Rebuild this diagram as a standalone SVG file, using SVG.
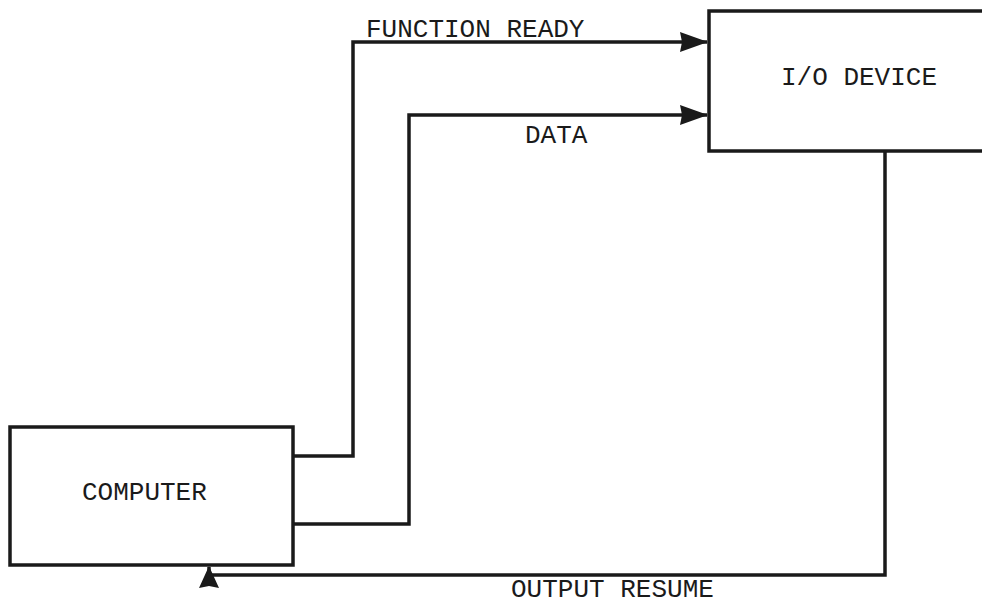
<svg xmlns="http://www.w3.org/2000/svg" width="982" height="605" viewBox="0 0 982 605">
<style>
.box{fill:#fff;stroke:#1a1a1a;stroke-width:3.5}
.wire{fill:none;stroke:#1a1a1a;stroke-width:3.5;stroke-linejoin:miter}
.lbl{font-family:"Liberation Mono","DejaVu Sans Mono",monospace;font-size:26px;fill:#1a1a1a}
</style>
<defs>
<marker id="ah" markerWidth="28" markerHeight="24" refX="27" refY="12" orient="auto" markerUnits="userSpaceOnUse">
<path d="M0,2 L28,12 L0,22 L2,12 Z" fill="#1a1a1a"/>
</marker>
<marker id="ahs" markerWidth="22" markerHeight="22" refX="21" refY="11" orient="auto" markerUnits="userSpaceOnUse">
<path d="M0,1 L22,11 L0,21 L2,11 Z" fill="#1a1a1a"/>
</marker>
</defs>
<rect width="982" height="605" fill="#fff"/>
<g id="connectors">
<polyline class="wire" points="288,456 353,456 353,42 707,42" marker-end="url(#ah)"/>
<polyline class="wire" points="293,524 409,524 409,115 707,115" marker-end="url(#ah)"/>
<polyline class="wire" points="885,151 885,575 209,575 209,567" marker-end="url(#ahs)"/>
</g>
<g id="io-device">
<path class="box" d="M985,11 L709,11 L709,151 L985,151"/>
<text class="lbl" x="781" y="85">I/O DEVICE</text>
</g>
<g id="computer">
<rect class="box" x="10" y="427" width="283" height="138"/>
<text class="lbl" x="82" y="500">COMPUTER</text>
</g>
<g id="labels">
<text class="lbl" x="366" y="37">FUNCTION READY</text>
<text class="lbl" x="525" y="143">DATA</text>
<text class="lbl" x="511" y="597">OUTPUT RESUME</text>
</g>
</svg>
